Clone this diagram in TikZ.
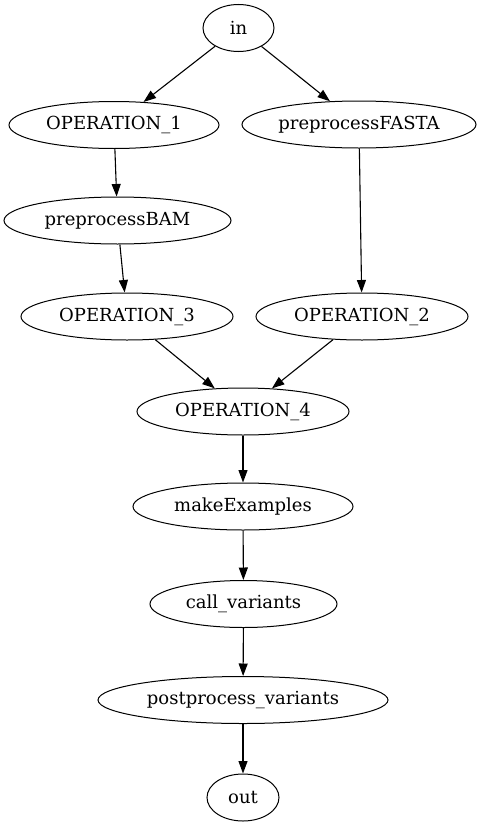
\documentclass[tikz,border=0pt]{standalone}
\usepackage{fontspec}
\setmainfont{DejaVu Serif}
\usetikzlibrary{shapes.geometric,arrows.meta}
\begin{document}
\begin{tikzpicture}[x=1pt,y=-1pt,
  nd/.style={draw,ellipse,line width=1pt,inner sep=0pt,minimum height=47pt,font=\fontsize{18}{21}\selectfont},
  edge/.style={draw,line width=1.1pt,-{Triangle[length=12.5pt,width=9pt]}}]
\useasboundingbox (0,0) rectangle (492,827);
\node[nd,minimum width=71pt] (in) at (238.5,28) {in};
\node[nd,minimum width=210pt] (op1) at (114,125) {OPERATION\_1};
\node[nd,minimum width=234pt] (fasta) at (359,124.5) {preprocessFASTA};
\node[nd,minimum width=227pt] (bam) at (117.5,220.5) {preprocessBAM};
\node[nd,minimum width=212pt] (op3) at (127,316.5) {OPERATION\_3};
\node[nd,minimum width=212pt] (op2) at (362,316.5) {OPERATION\_2};
\node[nd,minimum width=212pt] (op4) at (243,411.5) {OPERATION\_4};
\node[nd,minimum width=220pt] (mk) at (243,506.5) {makeExamples};
\node[nd,minimum width=187pt] (cv) at (243.5,604) {call\_variants};
\node[nd,minimum width=290pt] (pp) at (243,700) {postprocess\_variants};
\node[nd,minimum width=72pt] (out) at (243,797.5) {out};
\draw[edge] (in) -- (op1);
\draw[edge] (in) -- (fasta);
\draw[edge] (op1) -- (bam);
\draw[edge] (bam) -- (op3);
\draw[edge] (fasta) -- (op2);
\draw[edge] (op3) -- (op4);
\draw[edge] (op2) -- (op4);
\draw[edge] (op4) -- (mk);
\draw[edge] (mk) -- (cv);
\draw[edge] (cv) -- (pp);
\draw[edge] (pp) -- (out);
\end{tikzpicture}
\end{document}
